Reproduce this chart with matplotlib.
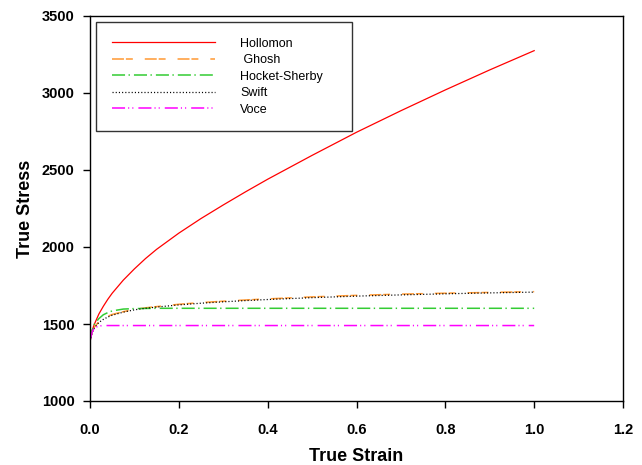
import matplotlib
matplotlib.use("Agg")
import matplotlib.pyplot as plt

plt.rcParams['font.family'] = ['Liberation Sans', 'DejaVu Sans']
plt.rcParams['lines.scale_dashes'] = False

strain = [0.0, 0.005, 0.01, 0.02, 0.03, 0.04, 0.05, 0.075, 0.1, 0.125, 0.15,
          0.2, 0.25, 0.3, 0.35, 0.4, 0.5, 0.6, 0.7, 0.8, 0.9, 1.0]
hollomon = [1395, 1460, 1500, 1565, 1615, 1660, 1700, 1785, 1858, 1925, 1985,
            2090, 2185, 2273, 2358, 2440, 2595, 2745, 2885, 3020, 3150, 3275]
ghosh = [1390, 1450, 1480, 1515, 1535, 1550, 1562, 1580, 1595, 1605, 1613,
         1628, 1639, 1648, 1656, 1663, 1676, 1686, 1694, 1700, 1705, 1710]
hocket_sherby = [1390, 1460, 1500, 1535, 1560, 1574, 1585, 1597, 1600, 1601, 1602,
                 1602, 1602, 1602, 1602, 1602, 1602, 1602, 1602, 1602, 1602, 1602]
swift = [1390, 1445, 1475, 1510, 1530, 1545, 1557, 1577, 1592, 1602, 1610,
         1624, 1635, 1644, 1652, 1659, 1671, 1681, 1689, 1696, 1702, 1707]
voce = [1390, 1450, 1475, 1487, 1490, 1490, 1490, 1490, 1490, 1490, 1490,
        1490, 1490, 1490, 1490, 1490, 1490, 1490, 1490, 1490, 1490, 1490]

labels = ['Hollomon', ' Ghosh', 'Hocket-Sherby', 'Swift', 'Voce']
x_ticks = [0.0, 0.2, 0.4, 0.6, 0.8, 1.0, 1.2]
y_ticks = [1000, 1500, 2000, 2500, 3000, 3500]

fig = plt.figure(figsize=(6.42, 4.65), dpi=100)
W, H = 642, 465
ax = fig.add_axes([90 / W, 1 - 401 / H, 533 / W, 385 / H])

ax.plot(strain, hollomon, color='#ff0000', lw=0.9, label=labels[0])
ax.plot(strain, ghosh, color='#ff9933', lw=1.1, dashes=(8.6, 1.4, 5.0, 8.6),
        label=labels[1])
ax.plot(strain, hocket_sherby, color='#33cc33', lw=1.1,
        dashes=(9.4, 2.5, 1.0, 2.9), label=labels[2])
ax.plot(strain, swift, color='black', lw=0.9, dashes=(0.8, 1.5),
        label=labels[3])
ax.plot(strain, voce, color='#ff00ff', lw=1.1,
        dashes=(9.4, 2.2, 0.8, 2.2, 0.8, 3.6), label=labels[4])

ax.set_xlim(0, 1.2)
ax.set_ylim(1000, 3500)
ax.set_xticks(x_ticks)
ax.set_xticklabels([f'{v:.1f}' for v in x_ticks])
ax.set_yticks(y_ticks)
ax.set_yticklabels([str(v) for v in y_ticks])
for lab in ax.get_xticklabels() + ax.get_yticklabels():
    lab.set_fontweight('bold')
    lab.set_fontsize(10.5)
ax.tick_params(direction='out', length=5, width=1.0)
ax.tick_params(axis='x', pad=11)
ax.tick_params(axis='y', pad=6)
for s in ax.spines.values():
    s.set_linewidth(1.0)
    s.set_color('black')

ax.set_xlabel('True Strain', fontsize=13, fontweight='bold', labelpad=8)
ax.set_ylabel('True Stress', fontsize=13, fontweight='bold', labelpad=6)

leg = ax.legend(loc='upper left',
                bbox_to_anchor=(96 / W, 1 - 129 / H, (352 - 96) / W, (129 - 22) / H),
                bbox_transform=fig.transFigure, mode='expand',
                fontsize=9, handlelength=8.3, handletextpad=2.0,
                labelspacing=0.36, borderpad=1.25, borderaxespad=0,
                frameon=True, fancybox=False)
leg.get_frame().set_edgecolor('black')
leg.get_frame().set_linewidth(1.0)

fig.savefig('out.png', dpi=100)
